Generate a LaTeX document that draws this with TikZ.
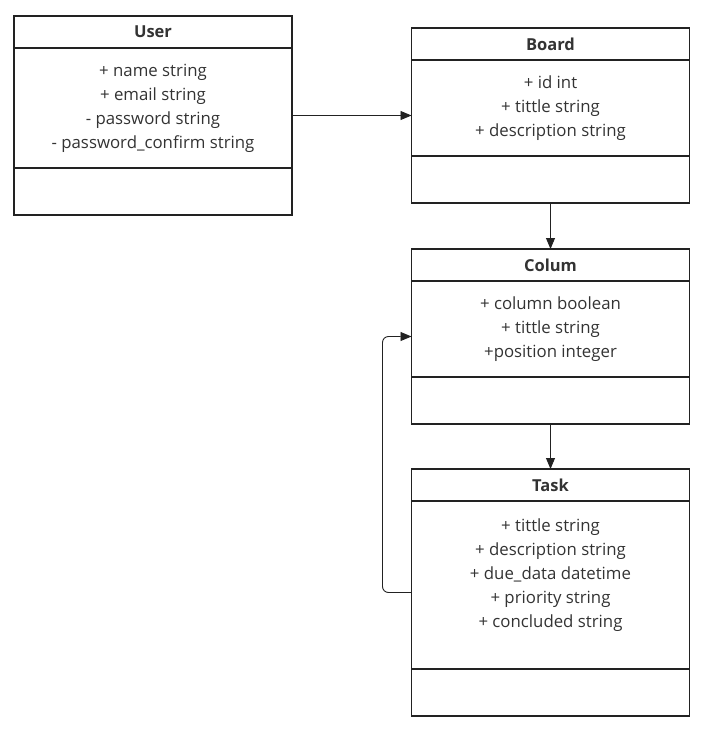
\documentclass[tikz,border=0pt]{standalone}
\usepackage{fontspec}
\setmainfont{Open Sans}
\usetikzlibrary{positioning, arrows.meta, calc}

\definecolor{linegray}{HTML}{222222}
\definecolor{textgray}{HTML}{333333}

\begin{document}
\begin{tikzpicture}[x=1pt, y=-1pt, node distance=0pt]
    \tikzstyle{classtitle} = [rectangle, draw=linegray, line width=1.4pt, outer sep=0pt, minimum width=278pt, minimum height=32pt, inner sep=0pt, text=textgray, font=\fontsize{16.5}{24}\selectfont\bfseries]
    \tikzstyle{classattr} = [rectangle, draw=linegray, line width=1.4pt, outer sep=0pt, minimum width=278pt, inner sep=0pt, align=center, text=textgray, font=\fontsize{16.8}{24}\selectfont]
    \tikzstyle{classmeth} = [rectangle, draw=linegray, line width=1.4pt, outer sep=0pt, minimum width=278pt, minimum height=47pt, inner sep=0pt]
    \tikzstyle{arrow} = [draw=linegray, line width=0.9pt, -{Triangle[length=11pt, width=9pt]}]

    \useasboundingbox (0,0) rectangle (722,731);

    % User
    \node (utitle) [classtitle, anchor=north] at (153,16) {User};
    \node (uattr) [classattr, minimum height=120pt, below=of utitle] {+ name string\\+ email string\\- password string\\- password\_confirm string};
    \node (umeth) [classmeth, below=of uattr] {};

    % Board
    \node (btitle) [classtitle, anchor=north] at (550.5,28) {Board};
    \node (battr) [classattr, minimum height=96pt, below=of btitle] {+ id int\\+ tittle string\\+ description string};
    \node (bmeth) [classmeth, below=of battr] {};

    % Colum
    \node (ctitle) [classtitle, below=46pt of bmeth] {Colum};
    \node (cattr) [classattr, minimum height=96pt, below=of ctitle] {+ column boolean\\+ tittle string\\+position integer};
    \node (cmeth) [classmeth, below=of cattr] {};

    % Task
    \node (ttitle) [classtitle, below=45pt of cmeth] {Task};
    \node (tattr) [classattr, minimum height=168pt, below=of ttitle] {+ tittle string\\+ description string\\+ due\_data datetime\\+ priority string\\+ concluded string\\\mbox{}};
    \node (tmeth) [classmeth, below=of tattr] {};

    \coordinate (umid) at ($(utitle.north)!0.5!(umeth.south)$);
    \coordinate (cmid) at ($(ctitle.north)!0.5!(cmeth.south)$);
    \coordinate (tmid) at ($(ttitle.north)!0.5!(tmeth.south)$);

    % Arrows
    \draw [arrow] (uattr.east |- umid) -- (battr.west |- umid);
    \draw [arrow] (bmeth) -- (ctitle);
    \draw [arrow] (cmeth) -- (ttitle);
    \draw [arrow, rounded corners=6pt] (tattr.west |- tmid) -- ++(-29,0) |- (cattr.west |- cmid);
\end{tikzpicture}
\end{document}
